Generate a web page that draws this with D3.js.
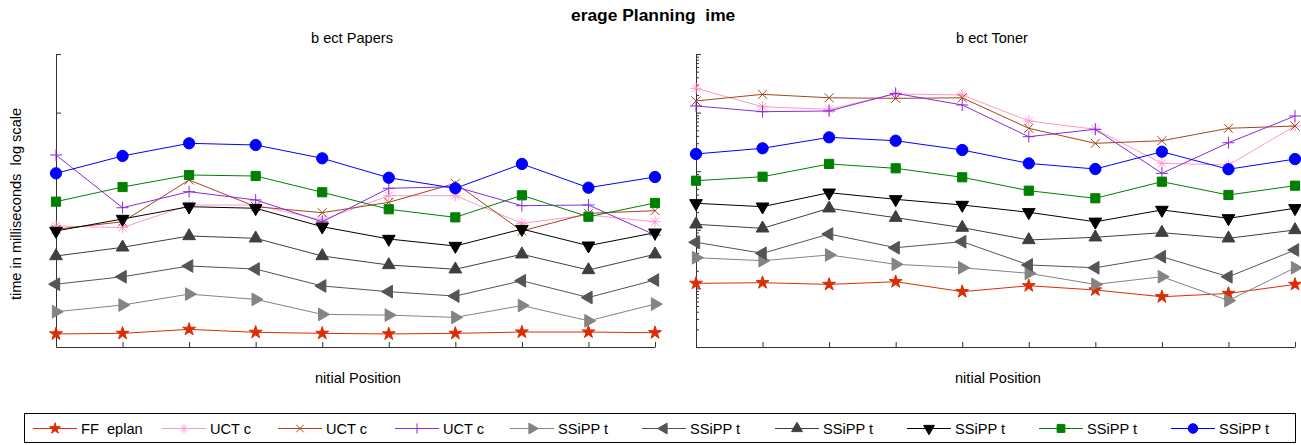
<!DOCTYPE html>
<html>
<head>
<meta charset="utf-8">
<script src="https://cdn.jsdelivr.net/npm/d3@7"></script>
<style>
  body { margin: 0; background: #fff; }
  svg { display: block; }
  text { font-family: "Liberation Sans", Arial, Helvetica, sans-serif; white-space: pre; }
</style>
</head>
<body>
<svg id="chart" width="1301" height="445"></svg>
<script>
// initial positions 1..10 (tick labels did not render in the original)
var positions = [1, 2, 3, 4, 5, 6, 7, 8, 9, 10];

var seriesNames = ["FF  eplan", "UCT c", "UCT c", "UCT c", "SSiPP t", "SSiPP t", "SSiPP t", "SSiPP t", "SSiPP t", "SSiPP t"];

// subject: papers  (ms, log scale)
var papersFF    = [16.7, 17.1, 20.0, 17.8, 17.1, 16.7, 17.1, 18.0, 18.0, 17.5];
var papersUCT1  = [1160, 1090, 2650, 2650, 1470, 3820, 3820, 1290, 1790, 1370];
var papersUCT2  = [1020, 1370, 7080, 2480, 1960, 2940, 6220, 955, 1910, 2120];
var papersUCT3  = [18900, 2380, 4470, 3230, 1370, 5110, 5430, 2580, 2650, 815];
var papersSSiPP1 = [40, 52, 80, 65, 36, 35, 32, 51, 28, 54];
var papersSSiPP2 = [118, 158, 241, 214, 110, 88, 74, 135, 70, 139];
var papersSSiPP3 = [357, 502, 784, 716, 357, 251, 212, 382, 206, 382];
var papersSSiPP4 = [955, 1530, 2480, 2330, 1130, 697, 529, 1030, 536, 893];
var papersSSiPP5 = [3020, 5370, 8610, 8280, 4370, 2240, 1630, 3880, 1670, 2870];
var papersSSiPP6 = [9200, 18200, 29900, 28000, 16600, 7740, 5110, 13300, 5230, 7960];

// subject: toner
var tonerFF    = [122, 125, 117, 130, 88, 111, 94, 72, 82, 117];
var tonerUCT1  = [260000, 126000, 114000, 208000, 200000, 71900, 51900, 13650, 12760, 59000];
var tonerUCT2  = [158000, 205000, 179000, 175000, 179000, 54000, 29900, 33100, 54000, 59000];
var tonerUCT3  = [129700, 103600, 106500, 213000, 134900, 38800, 51900, 9200, 30600, 87500];
var tonerSSiPP1 = [334, 297, 372, 258, 225, 181, 117, 158, 62, 225];
var tonerSSiPP2 = [612, 397, 847, 495, 627, 251, 225, 348, 158, 452];
var tonerSSiPP3 = [1240, 1060, 2330, 1610, 1090, 670, 745, 893, 716, 993];
var tonerSSiPP4 = [2830, 2480, 4300, 3310, 2650, 1990, 1370, 2180, 1570, 2330];
var tonerSSiPP5 = [6890, 8050, 13300, 11200, 7870, 4650, 3450, 6620, 3930, 5660];
var tonerSSiPP6 = [19700, 24600, 37800, 33100, 23000, 13600, 10900, 21500, 10800, 16100];

var styles = [
  { color: "#db2d05", marker: "star" },
  { color: "#ff99cc", marker: "asterisk" },
  { color: "#a3461b", marker: "x" },
  { color: "#8a2be2", marker: "plus" },
  { color: "#848484", marker: "triRight" },
  { color: "#555555", marker: "triLeft" },
  { color: "#3f3f3f", marker: "triUp" },
  { color: "#000000", marker: "triDown" },
  { color: "#008000", marker: "square" },
  { color: "#0000ff", marker: "circle" }
];

var panels = [
  { title: "b ect Papers", titleX: 311, labelX: 315, x0: 56, x1: 655, sparseTicks: true,
    series: [papersFF, papersUCT1, papersUCT2, papersUCT3, papersSSiPP1, papersSSiPP2, papersSSiPP3, papersSSiPP4, papersSSiPP5, papersSSiPP6] },
  { title: "b ect Toner", titleX: 956, labelX: 955, x0: 696, x1: 1295, sparseTicks: false,
    series: [tonerFF, tonerUCT1, tonerUCT2, tonerUCT3, tonerSSiPP1, tonerSSiPP2, tonerSSiPP3, tonerSSiPP4, tonerSSiPP5, tonerSSiPP6] }
];

var svg = d3.select("#chart");
var axisColor = "#333";
var fontSize = 14.6;

function markerPath(type, s) {
  s = s || 1;
  var r;
  switch (type) {
    case "star": return d3.symbol(d3.symbolStar, 52 * s * s)();
    case "circle": return d3.symbol(d3.symbolCircle, 100 * s * s)();
    case "square": return d3.symbol(d3.symbolSquare, 84 * s * s)();
    case "triRight": case "triLeft": case "triUp": case "triDown":
      return d3.symbol(d3.symbolTriangle, 70 * s * s)();
    case "plus": r = 6 * s; return "M" + -r + ",0H" + r + "M0," + -r + "V" + r;
    case "x": r = 4.5 * s; return "M" + -r + "," + -r + "L" + r + "," + r + "M" + -r + "," + r + "L" + r + "," + -r;
    case "asterisk":
      r = 5.5 * s; var q = r * 0.72;
      return "M" + -r + ",0H" + r + "M0," + -r + "V" + r +
        "M" + -q + "," + -q + "L" + q + "," + q + "M" + -q + "," + q + "L" + q + "," + -q;
  }
}

function rotation(type) {
  if (type == "triRight") return 90;
  if (type == "triLeft") return -90;
  if (type == "triDown") return 180;
  return 0;
}

function isOpen(type) {
  return type == "plus" || type == "x" || type == "asterisk";
}

function drawMarkers(sel, style, s) {
  sel.attr("d", markerPath(style.marker, s))
    .attr("fill", isOpen(style.marker) ? "none" : style.color)
    .attr("stroke", style.color)
    .attr("stroke-width", 1);
}

var yScale = d3.scaleLog().domain([10, 1e6]).range([347, 54]);

// title
svg.append("text")
  .attr("x", 571)
  .attr("y", 21)
  .attr("font-size", 17.4)
  .attr("font-weight", "bold")
  .attr("fill", "#000")
  .text("erage Planning  ime");

// y label
svg.append("text")
  .attr("transform", "translate(21,204) rotate(-90)")
  .attr("text-anchor", "middle")
  .attr("font-size", fontSize)
  .attr("fill", "#000")
  .text("time in milliseconds  log scale");

panels.forEach(function(p) {
  var x = d3.scaleLinear().domain([1, 10]).range([p.x0, p.x1]);
  var g = svg.append("g");

  g.append("text")
    .attr("x", p.titleX)
    .attr("y", 43)
    .attr("font-size", fontSize)
    .attr("fill", "#000")
    .text(p.title);

  g.append("text")
    .attr("x", p.labelX)
    .attr("y", 383)
    .attr("font-size", fontSize)
    .attr("fill", "#000")
    .text("nitial Position");

  // x axis, ticks pointing inward
  g.append("g")
    .attr("transform", "translate(0," + yScale.range()[0] + ")")
    .call(d3.axisTop(x).tickValues(positions).tickSize(5).tickSizeOuter(0).tickFormat(""));

  // y axis
  var majors = p.sparseTicks ? [1e5, 1e6] : [10, 100, 1e3, 1e4, 1e5, 1e6];
  g.append("g")
    .attr("transform", "translate(" + p.x0 + ",0)")
    .call(d3.axisRight(yScale).tickValues(majors).tickSize(5).tickSizeOuter(0).tickFormat(""));

  if (!p.sparseTicks) {
    var minors = [];
    for (var d = 1; d < 6; d++) {
      for (var k = 2; k < 10; k++) minors.push(k * Math.pow(10, d));
    }
    var minorAxis = g.append("g")
      .attr("transform", "translate(" + p.x0 + ",0)")
      .call(d3.axisRight(yScale).tickValues(minors).tickSize(3).tickSizeOuter(0).tickFormat(""));
    minorAxis.select(".domain").remove();
  }

  g.selectAll(".domain").attr("stroke", axisColor);
  g.selectAll(".tick line").attr("stroke", axisColor);

  var line = d3.line()
    .x(function(d, i) { return x(positions[i]); })
    .y(function(d) { return yScale(d); });

  p.series.forEach(function(values, si) {
    var st = styles[si];
    var sg = g.append("g");
    sg.append("path")
      .datum(values)
      .attr("d", line)
      .attr("fill", "none")
      .attr("stroke", st.color)
      .attr("stroke-width", 1);

    sg.selectAll(".mk")
      .data(values)
      .enter().append("path")
      .attr("class", "mk")
      .attr("transform", function(d, i) {
        return "translate(" + x(positions[i]) + "," + yScale(d) + ") rotate(" + rotation(st.marker) + ")";
      })
      .call(drawMarkers, st, 1);
  });
});

// legend
var legend = svg.append("g").attr("class", "legend");
legend.append("rect")
  .attr("x", 24.5)
  .attr("y", 413.5)
  .attr("width", 1271)
  .attr("height", 29)
  .attr("fill", "#fff")
  .attr("stroke", "#000")
  .attr("stroke-width", 1);

var legendTextX = [81, 210, 326, 443, 558, 690, 823, 955, 1087, 1219];
seriesNames.forEach(function(name, i) {
  var st = styles[i];
  var tx = legendTextX[i];
  var cy = 428.5;
  var item = legend.append("g");
  item.append("line")
    .attr("x1", tx - 48).attr("x2", tx - 4)
    .attr("y1", cy).attr("y2", cy)
    .attr("stroke", st.color)
    .attr("stroke-width", 1);
  item.append("path")
    .attr("transform", "translate(" + (tx - 26) + "," + cy + ") rotate(" + rotation(st.marker) + ")")
    .call(drawMarkers, st, 0.85);
  item.append("text")
    .attr("x", tx)
    .attr("y", cy + 5)
    .attr("font-size", fontSize)
    .attr("fill", "#000")
    .text(name);
});
</script>
</body>
</html>
